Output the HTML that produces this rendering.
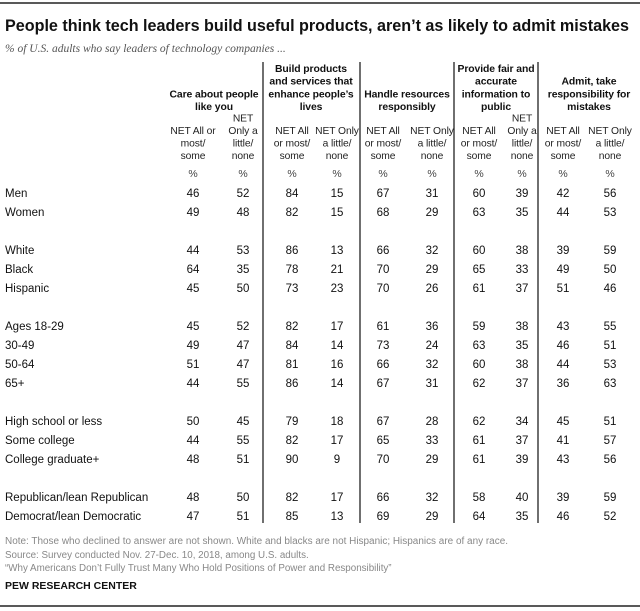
<!DOCTYPE html>
<html><head><meta charset="utf-8"><style>
html,body{margin:0;padding:0;background:#fff;}
svg{display:block;font-family:"Liberation Sans",Arial,sans-serif;}
</style></head><body>
<svg id="chart" width="640" height="611" viewBox="0 0 640 611">
<line x1="0" y1="3" x2="640" y2="3" stroke="#222" stroke-width="1.5"/>
<text x="5" y="31" font-size="17" font-weight="bold" fill="#111" textLength="624" lengthAdjust="spacingAndGlyphs">People think tech leaders build useful products, aren’t as likely to admit mistakes</text>
<text x="5" y="52" font-size="11.5" font-style="italic" fill="#555" font-family="Liberation Serif, serif">% of U.S. adults who say leaders of technology companies ...</text>
<g id="grid"></g>
<text x="5" y="544" font-size="9.8" fill="#888" textLength="503" lengthAdjust="spacingAndGlyphs">Note: Those who declined to answer are not shown. White and blacks are not Hispanic; Hispanics are of any race.</text>
<text x="5" y="558" font-size="9.8" fill="#888">Source: Survey conducted Nov. 27-Dec. 10, 2018, among U.S. adults.</text>
<text x="5" y="571" font-size="9.8" fill="#888">“Why Americans Don’t Fully Trust Many Who Hold Positions of Power and Responsibility”</text>
<text x="5" y="589" font-size="10.5" font-weight="bold" fill="#111">PEW RESEARCH CENTER</text>
<line x1="0" y1="606" x2="640" y2="606" stroke="#222" stroke-width="1.5"/>
</svg>
<script>
const groups = [
  ["Care about people","like you"],
  ["Build products","and services that","enhance people’s","lives"],
  ["Handle resources","responsibly"],
  ["Provide fair and","accurate","information to","public"],
  ["Admit, take","responsibility for","mistakes"]
];
const subA = ["NET All or","most/","some"];
const subB = ["NET","Only a","little/","none"];
const subA2 = ["NET All","or most/","some"];
const subB2 = ["NET Only","a little/","none"];
const rowLabels = ["Men","Women","White","Black","Hispanic","Ages 18-29","30-49","50-64","65+","High school or less","Some college","College graduate+","Republican/lean Republican","Democrat/lean Democratic"];
const rowGroups = [0,0,1,1,1,2,2,2,2,3,3,3,4,4];
const careAll = [46,49,44,64,45,45,49,51,44,50,44,48,48,47];
const careNone = [52,48,53,35,50,52,47,47,55,45,55,51,50,51];
const buildAll = [84,82,86,78,73,82,84,81,86,79,82,90,82,85];
const buildNone = [15,15,13,21,23,17,14,16,14,18,17,9,17,13];
const handleAll = [67,68,66,70,70,61,73,66,67,67,65,70,66,69];
const handleNone = [31,29,32,29,26,36,24,32,31,28,33,29,32,29];
const fairAll = [60,63,60,65,61,59,63,60,62,62,61,61,58,64];
const fairNone = [39,35,38,33,37,38,35,38,37,34,37,39,40,35];
const admitAll = [42,44,39,49,51,43,46,44,36,45,41,43,39,46];
const admitNone = [56,53,59,50,46,55,51,53,63,51,57,56,59,52];

const series = [careAll,careNone,buildAll,buildNone,handleAll,handleNone,fairAll,fairNone,admitAll,admitNone];
const NS="http://www.w3.org/2000/svg";
const g=document.getElementById('grid');
const colX=[193,243,292,337,383,432,479,522,563,610];
const groupX=[214,311,407,496,589];
const dividers=[263,360,454,538];
function rowY(i){return 197+i*19+rowGroups[i]*19;}
function txt(x,y,s,opt){const t=document.createElementNS(NS,'text');t.setAttribute('x',x);t.setAttribute('y',y);t.textContent=s;for(const k in opt)t.setAttribute(k,opt[k]);g.appendChild(t);return t;}
dividers.forEach((x,i)=>{const l=document.createElementNS(NS,'line');l.setAttribute('x1',x);l.setAttribute('x2',x);l.setAttribute('y1',62);l.setAttribute('y2',523);l.setAttribute('stroke','#222');l.setAttribute('stroke-width','1.3');


g.appendChild(l);});
groups.forEach((lines,gi)=>{const n=lines.length;lines.forEach((s,li)=>{const t=txt(groupX[gi],110-(n-1-li)*12.7,s,{'font-size':'10.4','font-weight':'bold','text-anchor':'middle','fill':'#111','letter-spacing':'-0.1'});


});});
for(let c=0;c<10;c++){
  const lines = c===0?subA:(c===1||c===7)?subB:(c%2===0?subA2:subB2);
  const n=lines.length;
  lines.forEach((s,li)=>{const t=txt(colX[c],159-(n-1-li)*12.5,s,{'font-size':'10.3','text-anchor':'middle','fill':'#222','letter-spacing':'-0.1'});
  
  
  });
  const p=txt(colX[c],177,'%',{'font-size':'10.5','text-anchor':'middle','fill':'#444'});
  
  
}
rowLabels.forEach((lab,i)=>{
  const y=rowY(i);
  const t=txt(5,y,lab,{'font-size':'11.5','fill':'#111'});
  
  
  series.forEach((arr,c)=>{
    const v=txt(colX[c],y,String(arr[i]),{'font-size':'11.5','text-anchor':'middle','fill':'#111'});
    
    
  });
});
</script>
</body></html>
